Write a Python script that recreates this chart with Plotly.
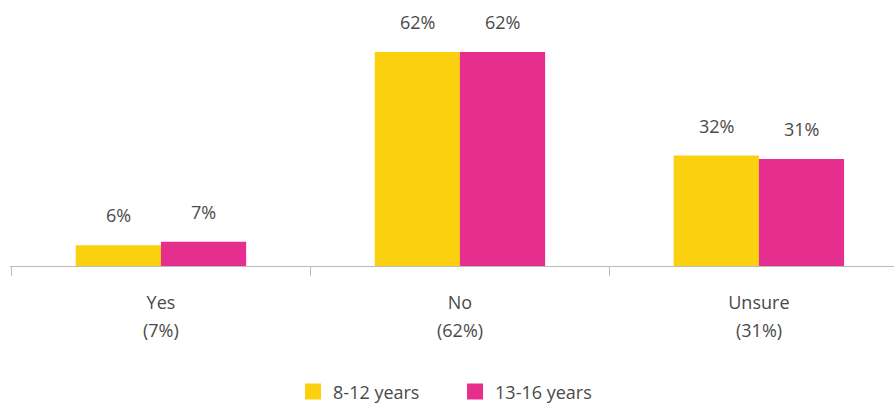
import plotly.graph_objects as go

# Survey answers by age group (percent of respondents)
categories = ["Yes", "No", "Unsure"]
overall = [7, 62, 31]
group_names = ["8-12 years", "13-16 years"]
values_8_12 = [6, 62, 32]
values_13_16 = [7, 62, 31]
colors = ["#FBD00F", "#E62E8F"]

text_color = "#4A4A4A"
font_family = "Open Sans, sans-serif"

W, H = 894, 404
margin = dict(l=10, r=0, t=10, b=138)
x_range = [-0.505, 2.452]
y_range = [0, 74.2]

fig = go.Figure()
series = [values_8_12, values_13_16]
for name, vals, col in zip(group_names, series, colors):
    fig.add_trace(go.Bar(
        x=categories, y=vals, name=name, marker_color=col,
        marker_line_width=0, showlegend=False,
    ))
    # square legend swatch
    fig.add_trace(go.Scatter(
        x=[None], y=[None], mode="markers", name=name,
        marker=dict(symbol="square", size=16, color=col),
    ))

bargap = 0.43
# pixel offset of each bar centre from its category centre
plot_w = W - margin["l"] - margin["r"]
px_per_cat = plot_w / (x_range[1] - x_range[0])
bar_w = px_per_cat * (1 - bargap) / 2
offsets = [-bar_w / 2, bar_w / 2]

for off, vals in zip(offsets, series):
    for c, v in zip(categories, vals):
        fig.add_annotation(
            x=c, y=v, text=f"{v}%", showarrow=False,
            xshift=off, yshift=30, yanchor="middle",
            font=dict(size=18, color=text_color, family=font_family),
        )

# overall share, printed as a second line under each category name
for c, o in zip(categories, overall):
    fig.add_annotation(
        x=c, y=0, text=f"({o}%)", showarrow=False,
        yshift=-64, yanchor="middle",
        font=dict(size=18, color=text_color, family=font_family),
    )

fig.update_layout(
    width=W, height=H, margin=margin,
    barmode="group", bargap=bargap, bargroupgap=0,
    paper_bgcolor="white", plot_bgcolor="white",
    font=dict(family=font_family, size=18, color=text_color),
    legend=dict(
        orientation="h", xref="container", yref="container",
        x=0.509, xanchor="center", y=0.03, yanchor="middle",
        entrywidth=117, entrywidthmode="pixels",
        font=dict(size=18, color=text_color), itemclick=False,
    ),
    xaxis=dict(
        range=x_range, tickmode="array", tickvals=categories, ticktext=categories,
        tickson="boundaries", ticks="outside", ticklen=9, tickcolor="#BBBBBB",
        ticklabelstandoff=20,
        showline=True, linecolor="#BBBBBB", linewidth=1,
        showgrid=False, zeroline=False, fixedrange=True,
    ),
    yaxis=dict(
        range=y_range, visible=False, showgrid=False, zeroline=False,
        fixedrange=True,
    ),
)

fig.write_html("out.html")
